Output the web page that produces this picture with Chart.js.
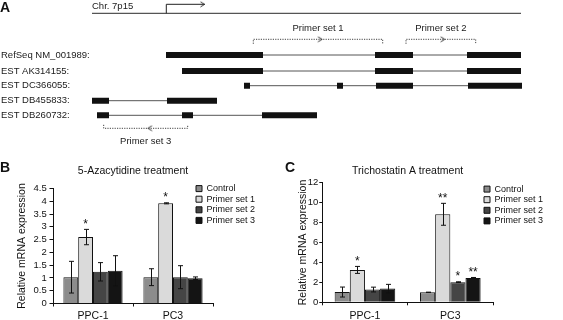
<!DOCTYPE html>
<html>
<head>
<meta charset="utf-8">
<script src="https://cdn.jsdelivr.net/npm/chart.js@4.4.0/dist/chart.umd.min.js"></script>
<style>
  html, body { margin: 0; padding: 0; background: #fff; }
  #wrap { position: relative; width: 563px; height: 320px; overflow: hidden; background: #fff; }
  canvas { position: absolute; }
  .tag { position: absolute; font: bold 14px/14px "Liberation Sans", Arial, sans-serif; color: #111; }
</style>
</head>
<body>
<div id="wrap">
  <canvas id="genes" width="563" height="160" style="left:0;top:0"></canvas>
  <canvas id="aza" width="280" height="170" style="left:0;top:160px"></canvas>
  <canvas id="tsa" width="283" height="170" style="left:280px;top:160px"></canvas>
  <div class="tag" style="left:0;top:0">A</div>
  <div class="tag" style="left:0;top:160px">B</div>
  <div class="tag" style="left:285px;top:160px">C</div>
</div>
<script>
// ---- panel A: transcript map (positions in figure units along chr 7p15) ----
const chromLabel = 'Chr. 7p15';
const chromSpan = [92, 521];
const chromY = 13.3;
const tssX = 166.3;
const tssTop = 4.3;
const tssEnd = 205;

const transcripts = ['RefSeq NM_001989:', 'EST AK314155:', 'EST DC366055:', 'EST DB455833:', 'EST DB260732:'];
const trackY = [55, 71, 85.7, 100.7, 115.3];
const exons = [
  [[166, 263], [375, 413], [467, 521]],
  [[182, 263], [375, 413], [467, 521]],
  [[244, 250], [337, 343], [376, 413], [468, 522]],
  [[92, 109], [167, 217]],
  [[97, 109], [182, 193], [262, 317]]
];

const primerNames = ['Primer set 1', 'Primer set 2', 'Primer set 3'];
const primerStart = [253.3, 406, 103.7];
const primerEnd = [382.7, 475.7, 187.7];
const primerY = [39.3, 39.3, 128.3];
const primerTick = [4.5, 4.5, -3.5];
const primerArrowX = [320, 442.7, 150];
const primerArrowDir = [0, 0, 180];
const primerLabelY = [28.3, 28.3, 141];

// ---- panels B and C: relative mRNA expression ----
const cellLines = ['PPC-1', 'PC3'];
const seriesNames = ['Control', 'Primer set 1', 'Primer set 2', 'Primer set 3'];
const seriesColors = ['#8c8c8c', '#dadada', '#454545', '#141414'];

const azaMean = [[1.03, 1.03], [2.6, 3.92], [1.24, 1.03], [1.28, 0.99]];
const azaErr = [[0.62, 0.33], [0.3, 0.02], [0.36, 0.45], [0.59, 0.05]];
const azaStars = [['', ''], ['*', '*'], ['', ''], ['', '']];
const azaTicks = { max: 4.5, step: 0.5 };

const tsaMean = [[1.03, 1.0], [3.25, 8.83], [1.28, 2.02], [1.38, 2.45]];
const tsaErr = [[0.5, 0.02], [0.35, 1.1], [0.24, 0.04], [0.42, 0.04]];
const tsaStars = [['', ''], ['*', '**'], ['', '*'], ['', '**']];
const tsaTicks = { max: 12, step: 2 };

Chart.defaults.font.family = '"Liberation Sans", Arial, sans-serif';
Chart.defaults.color = '#1a1a1a';

function chevron(color) {
  const c = document.createElement('canvas');
  c.width = 7; c.height = 7;
  const g = c.getContext('2d');
  g.strokeStyle = color;
  g.lineWidth = 1;
  g.beginPath();
  g.moveTo(1.5, 1); g.lineTo(5.5, 3.5); g.lineTo(1.5, 6);
  g.stroke();
  return c;
}

// build panel A datasets
const geneSets = [];
exons.forEach((list, i) => {
  const pts = [];
  list.forEach(e => {
    pts.push({ x: e[0], y: trackY[i] }, { x: e[1], y: trackY[i] }, { x: e[1], y: null });
  });
  geneSets.push({ data: pts, borderColor: '#111', borderWidth: 6, borderCapStyle: 'butt', order: 0 });
  geneSets.push({
    data: [{ x: list[0][0], y: trackY[i] }, { x: list[list.length - 1][1], y: trackY[i] }],
    borderColor: '#555', borderWidth: 1, order: 2
  });
});
geneSets.push({
  data: [{ x: chromSpan[0], y: chromY }, { x: chromSpan[1], y: chromY }],
  borderColor: '#555', borderWidth: 1.3, order: 2
});
geneSets.push({
  data: [{ x: tssX, y: chromY }, { x: tssX, y: tssTop }, { x: tssEnd, y: tssTop }],
  borderColor: '#222', borderWidth: 1, order: 1
});
primerNames.forEach((p, i) => {
  const t = primerY[i] + primerTick[i];
  geneSets.push({
    data: [{ x: primerStart[i], y: t }, { x: primerStart[i], y: primerY[i] },
           { x: primerEnd[i], y: primerY[i] }, { x: primerEnd[i], y: t }],
    borderColor: '#444', borderWidth: 1, borderDash: [1.2, 1.2], order: 1
  });
});
const arrowPts = primerNames.map((p, i) => ({ x: primerArrowX[i], y: primerY[i], r: primerArrowDir[i] }));
arrowPts.push({ x: tssEnd - 2.5, y: tssTop, r: 0 });
geneSets.push({
  data: arrowPts, showLine: false, pointRadius: 3, order: 0,
  pointStyle: chevron('#333'),
  pointRotation: ctx => ctx.raw ? ctx.raw.r : 0
});
geneSets.forEach(d => {
  if (d.showLine === undefined) { d.showLine = true; d.pointRadius = 0; }
  d.pointHoverRadius = 0;
  d.clip = false;
});

const geneText = {
  id: 'geneText',
  afterDatasetsDraw(chart) {
    const { ctx, scales: { x, y } } = chart;
    ctx.save();
    ctx.font = '9.5px "Liberation Sans", Arial, sans-serif';
    ctx.fillStyle = '#1a1a1a';
    ctx.textBaseline = 'middle';
    ctx.textAlign = 'left';
    transcripts.forEach((t, i) => ctx.fillText(t, x.getPixelForValue(1), y.getPixelForValue(trackY[i])));
    ctx.fillText(chromLabel, x.getPixelForValue(chromSpan[0]), y.getPixelForValue(6));
    ctx.textAlign = 'center';
    primerNames.forEach((p, i) => {
      ctx.fillText(p, x.getPixelForValue((primerStart[i] + primerEnd[i]) / 2), y.getPixelForValue(primerLabelY[i]));
    });
    ctx.restore();
  }
};

new Chart(document.getElementById('genes'), {
  type: 'scatter',
  data: { datasets: geneSets },
  options: {
    responsive: false,
    animation: false,
    layout: { padding: 0, autoPadding: false },
    scales: {
      x: { type: 'linear', min: 0, max: 563, display: false },
      y: { type: 'linear', min: 0, max: 160, reverse: true, display: false }
    },
    plugins: { legend: { display: false }, tooltip: { enabled: false } }
  },
  plugins: [geneText]
});

// error bars + significance marks
const errorBars = {
  id: 'errorBars',
  afterDatasetsDraw(chart, args, opts) {
    const { ctx, scales: { y } } = chart;
    ctx.save();
    ctx.strokeStyle = '#111';
    ctx.fillStyle = '#111';
    ctx.lineWidth = 1;
    ctx.font = '12px "Liberation Sans", Arial, sans-serif';
    ctx.textAlign = 'center';
    ctx.textBaseline = 'middle';
    chart.data.datasets.forEach((ds, i) => {
      chart.getDatasetMeta(i).data.forEach((bar, j) => {
        const v = ds.data[j], e = opts.err[i][j];
        const top = y.getPixelForValue(v + e), bot = y.getPixelForValue(v - e);
        const bx = Math.round(bar.x) + 0.5;
        ctx.beginPath();
        ctx.moveTo(bx, top); ctx.lineTo(bx, bot);
        ctx.moveTo(bx - 2.5, top); ctx.lineTo(bx + 2.5, top);
        ctx.moveTo(bx - 2.5, bot); ctx.lineTo(bx + 2.5, bot);
        ctx.stroke();
        if (opts.stars[i][j]) ctx.fillText(opts.stars[i][j], bar.x, top - 5);
      });
    });
    ctx.restore();
  }
};

const placeLegend = {
  id: 'placeLegend',
  afterLayout(chart, args, opts) {
    const lg = chart.legend;
    lg.left = opts.x; lg.top = opts.y;
    lg.right = chart.width; lg.bottom = chart.height;
  }
};

function barPanel(id, title, means, errs, stars, ticks, pad, legendPos) {
  return new Chart(document.getElementById(id), {
    type: 'bar',
    data: {
      labels: cellLines,
      datasets: seriesNames.map((s, i) => ({
        label: s, data: means[i], backgroundColor: seriesColors[i],
        borderColor: '#111', borderWidth: 1
      }))
    },
    options: {
      responsive: false,
      animation: false,
      layout: { padding: pad.layout },
      datasets: { bar: { barPercentage: 1, categoryPercentage: pad.cat } },
      scales: {
        x: {
          grid: { drawOnChartArea: false, tickLength: 3, color: '#111' },
          border: { color: '#111' },
          ticks: { font: { size: 10.5 }, padding: pad.xPad, color: '#111' }
        },
        y: {
          min: 0, max: ticks.max,
          ticks: {
            stepSize: ticks.step, autoSkip: false, font: { size: 9.5 }, padding: pad.yPad, color: '#111',
            callback: v => String(v)
          },
          grid: { drawOnChartArea: false, tickLength: pad.yTick, color: '#111' },
          border: { color: '#111' },
          title: {
            display: true, text: 'Relative mRNA expression', color: '#111',
            font: { size: 10.5, lineHeight: 0.8 }, padding: { top: 4, bottom: pad.titleGap }
          }
        }
      },
      plugins: {
        title: {
          display: true, text: title, fullSize: false, color: '#111',
          font: { size: 10.5, weight: 'normal' }, padding: pad.title
        },
        legend: {
          position: 'chartArea', align: 'start',
          labels: { boxWidth: 6, boxHeight: 6, font: { size: 9 }, padding: 1.6, color: '#111' }
        },
        tooltip: { enabled: false },
        errorBars: { err: errs, stars: stars },
        placeLegend: legendPos
      }
    },
    plugins: [errorBars, placeLegend]
  });
}

barPanel('aza', '5-Azacytidine treatment', azaMean, azaErr, azaStars, azaTicks, {
  layout: { left: 14.3, right: 67, top: 0, bottom: 4.5 }, cat: 0.74,
  xPad: 3.2, yPad: 2.8, yTick: 3.5, titleGap: 4.0, title: { top: 4.9, bottom: 11 }
}, { x: 194.4, y: 22.5 });

barPanel('tsa', 'Trichostatin A treatment', tsaMean, tsaErr, tsaStars, tsaTicks, {
  layout: { left: 14.5, right: 70, top: 0, bottom: 3.3 }, cat: 0.71,
  xPad: 4.4, yPad: 0.9, yTick: 3, titleGap: 0, title: { top: 4.7, bottom: 5.4 }
}, { x: 202.4, y: 23 });
</script>
</body>
</html>
